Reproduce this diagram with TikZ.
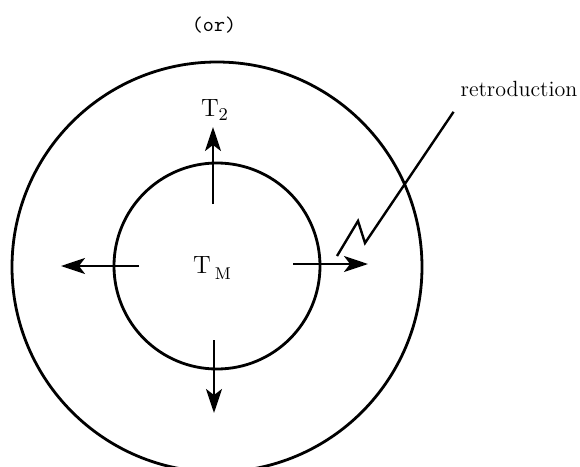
\documentclass[tikz,border=0pt]{standalone}
\usetikzlibrary{arrows.meta}
\begin{document}
\begin{tikzpicture}[x=0.5pt, y=-0.5pt, >={Stealth[length=12pt,width=8pt,inset=3pt]}, font=\fontsize{11}{13}\selectfont]
\clip (0,0) rectangle (580,467);
\node[draw, circle, line width=1.4pt, minimum size=205pt, inner sep=0pt] (outer) at (217,267) {};
\node[draw, circle, line width=1.4pt, minimum size=103pt, inner sep=0pt] (inner) at (217,266) {};
\node (or) at (214,25) {\fontsize{10.5}{12}\ttfamily (or)};
\node (t2) at (215,110) {\fontsize{12.5}{14}\selectfont T$_2$};
\node (tm) at (212,268) {\fontsize{12.5}{14}\selectfont T\,\raisebox{-0.5ex}{\fontsize{8.5}{10}\selectfont M}};
\node (rt) at (519,89) {retroduction};
\coordinate (u0) at (213,204);
\coordinate (u1) at (213,127);
\coordinate (l0) at (139,266);
\coordinate (l1) at (61,266);
\coordinate (r0) at (293,264);
\coordinate (r1) at (368,264);
\coordinate (d0) at (214,340);
\coordinate (d1) at (214,413);
\coordinate (z0) at (337,256);
\coordinate (z1) at (358,221);
\coordinate (z2) at (365,243);
\draw[->, line width=1.2pt] (u0) -- (u1);
\draw[->, line width=1.2pt] (l0) -- (l1);
\draw[->, line width=1.2pt] (r0) -- (r1);
\draw[->, line width=1.2pt] (d0) -- (d1);
\draw[line width=1.2pt] (z0) -- (z1) -- (z2) -- ([yshift=-4pt]rt.south west);
\end{tikzpicture}
\end{document}
